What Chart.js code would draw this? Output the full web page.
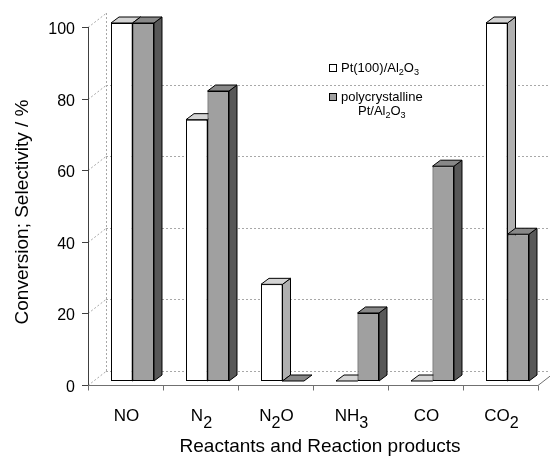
<!DOCTYPE html>
<html>
<head>
<meta charset="utf-8">
<script src="https://cdn.jsdelivr.net/npm/chart.js@4.4.0/dist/chart.umd.min.js"></script>
<style>
    html, body { margin: 0; padding: 0; background: #fff; }
</style>
</head>
<body>
<canvas id="myChart" width="550" height="457"></canvas>
<script>
const categories = ['NO', 'N2', 'N2O', 'NH3', 'CO', 'CO2'];
const pt100Values = [100, 73, 27, 0, 0, 100];
const polyValues = [100, 81, 0, 19, 60, 41];
const yTicks = [0, 20, 40, 60, 80, 100];
const seriesNames = ['Pt(100)/Al2O3', 'polycrystalline Pt/Al2O3'];
const xTitle = 'Reactants and Reaction products';
const yTitle = 'Conversion; Selectivity / %';

// 3d look: wall depth, bar position inside the box, bar depth
const WALL_DX = 18, WALL_DY = -14;
const BAR_DX = 7, BAR_DY = -4;
const DEPTH_X = 8, DEPTH_Y = -6;
const FONT = '"Liberation Sans", Arial, sans-serif';

const faceColors = [
    { side: '#b0b0b0', top: '#d4d4d4' },
    { side: '#585858', top: '#888888' }
];

function line(ctx, x1, y1, x2, y2) {
    ctx.beginPath();
    ctx.moveTo(x1, y1);
    ctx.lineTo(x2, y2);
    ctx.stroke();
}

function poly(ctx, pts, fill) {
    ctx.beginPath();
    ctx.moveTo(pts[0][0], pts[0][1]);
    for (let i = 1; i < pts.length; i++) ctx.lineTo(pts[i][0], pts[i][1]);
    ctx.closePath();
    ctx.fillStyle = fill;
    ctx.fill();
    ctx.stroke();
}

// digits right after a letter are drawn as subscripts
function drawChem(ctx, text, x, y, size, subScale, drop, align) {
    const parts = [];
    for (let i = 0; i < text.length; i++) {
        const sub = /[0-9]/.test(text[i]) && i > 0 && /[A-Za-z]/.test(text[i - 1]);
        const last = parts[parts.length - 1];
        if (last && last.sub === sub) last.t += text[i];
        else parts.push({ t: text[i], sub: sub });
    }
    let w = 0;
    parts.forEach(p => {
        ctx.font = (p.sub ? size * subScale : size) + 'px ' + FONT;
        p.w = ctx.measureText(p.t).width;
        w += p.w;
    });
    let cx = align === 'center' ? x - w / 2 : (align === 'right' ? x - w : x);
    ctx.textAlign = 'left';
    ctx.textBaseline = 'alphabetic';
    parts.forEach(p => {
        ctx.font = (p.sub ? size * subScale : size) + 'px ' + FONT;
        ctx.fillText(p.t, cx, p.sub ? y + drop : y);
        cx += p.w;
    });
}

function drawFrame(chart) {
    const { ctx, chartArea: a, scales: { x, y } } = chart;
    const y0 = y.getPixelForValue(0);
    const y100 = y.getPixelForValue(100);
    ctx.save();
    ctx.lineWidth = 1;

    // walls and grid lines
    ctx.strokeStyle = '#a8a8a8';
    ctx.setLineDash([2, 2]);
    yTicks.forEach(v => {
        const py = Math.round(y.getPixelForValue(v)) + 0.5;
        line(ctx, a.left, py, a.left + WALL_DX, py + WALL_DY);
        if (v > 0 && v < 100) line(ctx, a.left + WALL_DX, py + WALL_DY, chart.width, py + WALL_DY);
    });
    line(ctx, a.left + WALL_DX + 0.5, y0 + WALL_DY, a.left + WALL_DX + 0.5, y100 + WALL_DY);
    line(ctx, a.left + WALL_DX, Math.round(y0) + WALL_DY + 0.5, chart.width, Math.round(y0) + WALL_DY + 0.5);

    // floor front edge and y axis
    ctx.setLineDash([]);
    ctx.strokeStyle = '#707070';
    const fy = Math.round(y0) + 0.5;
    line(ctx, a.left, fy, a.right, fy);
    line(ctx, a.right, fy, a.right + WALL_DX, fy + WALL_DY);
    const step = x.getPixelForValue(1) - x.getPixelForValue(0);
    for (let i = 0; i <= categories.length; i++) {
        const bx = Math.round(x.getPixelForValue(0) - step / 2 + i * step) + 0.5;
        line(ctx, bx, fy, bx, fy + 5);
    }
    ctx.strokeStyle = '#404040';
    line(ctx, a.left + 0.5, y100, a.left + 0.5, y0);
    ctx.fillStyle = '#000';
    yTicks.forEach(v => {
        const py = Math.round(y.getPixelForValue(v)) + 0.5;
        line(ctx, a.left - 6, py, a.left, py);
        ctx.font = '16px ' + FONT;
        ctx.textAlign = 'right';
        ctx.textBaseline = 'alphabetic';
        ctx.fillText(String(v), a.left - 13, py + 6);
    });

    // category labels
    categories.forEach((c, i) => {
        drawChem(ctx, c, x.getPixelForValue(i) + 1, y0 + 36, 17, 0.95, 7, 'center');
    });

    // axis titles
    ctx.font = '19px ' + FONT;
    ctx.textAlign = 'center';
    ctx.textBaseline = 'alphabetic';
    ctx.fillText(xTitle, a.left + a.width / 2 + 7, 452);
    ctx.save();
    ctx.translate(28, 212);
    ctx.rotate(-Math.PI / 2);
    ctx.fillText(yTitle, 0, 0);
    ctx.restore();
    ctx.restore();
}

function drawFaces(chart, di) {
    const ctx = chart.ctx;
    const meta = chart.getDatasetMeta(di);
    const col = faceColors[di];
    ctx.save();
    ctx.strokeStyle = '#000';
    ctx.lineWidth = 1;
    ctx.lineJoin = 'round';
    meta.data.forEach(el => {
        const L = el.x - el.width / 2 + BAR_DX;
        const R = el.x + el.width / 2 + BAR_DX;
        const T = el.y + BAR_DY;
        const B = el.base + BAR_DY;
        if (B - T > 0.5) {
            poly(ctx, [[R, T], [R + DEPTH_X, T + DEPTH_Y], [R + DEPTH_X, B + DEPTH_Y], [R, B]], col.side);
        }
        poly(ctx, [[L, T], [R, T], [R + DEPTH_X, T + DEPTH_Y], [L + DEPTH_X, T + DEPTH_Y]], col.top);
    });
    ctx.restore();
}

function drawLegend(chart) {
    const ctx = chart.ctx;
    const boxX = 329, rows = [64, 93];
    ctx.save();
    seriesNames.forEach((name, i) => {
        ctx.strokeStyle = '#000';
        ctx.lineWidth = 1;
        ctx.fillStyle = chart.data.datasets[i].backgroundColor;
        ctx.fillRect(boxX + 0.5, rows[i] + 0.5, 7, 7);
        ctx.strokeRect(boxX + 0.5, rows[i] + 0.5, 7, 7);
        ctx.fillStyle = '#000';
        const words = name.split(' ');
        drawChem(ctx, words[0], boxX + 12, rows[i] + 8, 13, 0.7, 3, 'left');
        if (words.length > 1) {
            ctx.font = '13px ' + FONT;
            const w0 = ctx.measureText(words[0]).width;
            drawChem(ctx, words.slice(1).join(' '), boxX + 12 + w0 / 2, rows[i] + 22, 13, 0.7, 3, 'center');
        }
    });
    ctx.restore();
}

const depth3d = {
    id: 'depth3d',
    beforeDatasetsDraw(chart) {
        drawFrame(chart);
        drawFaces(chart, 0);
        chart.ctx.save();
        chart.ctx.translate(BAR_DX, BAR_DY);
    },
    afterDatasetsDraw(chart) {
        chart.ctx.restore();
        drawFaces(chart, 1);
        drawLegend(chart);
    }
};

const myChart = document.getElementById('myChart');
new Chart(myChart, {
    type: 'bar',
    data: {
        labels: categories,
        datasets: [{
            label: seriesNames[0],
            data: pt100Values,
            backgroundColor: '#ffffff',
            borderColor: '#000000',
            borderWidth: 1,
            borderSkipped: false,
            clip: false
        }, {
            label: seriesNames[1],
            data: polyValues,
            backgroundColor: '#a0a0a0',
            borderColor: '#000000',
            borderWidth: 1,
            borderSkipped: false,
            clip: false
        }]
    },
    options: {
        responsive: false,
        animation: false,
        layout: { padding: { left: 88, right: 12, top: 27, bottom: 72 } },
        datasets: { bar: { categoryPercentage: 0.573, barPercentage: 1 } },
        scales: {
            x: { display: false },
            y: { display: false, min: 0, max: 100, ticks: { stepSize: 20 } }
        },
        plugins: { legend: { display: false }, tooltip: { enabled: false } }
    },
    plugins: [depth3d]
});
</script>
</body>
</html>
